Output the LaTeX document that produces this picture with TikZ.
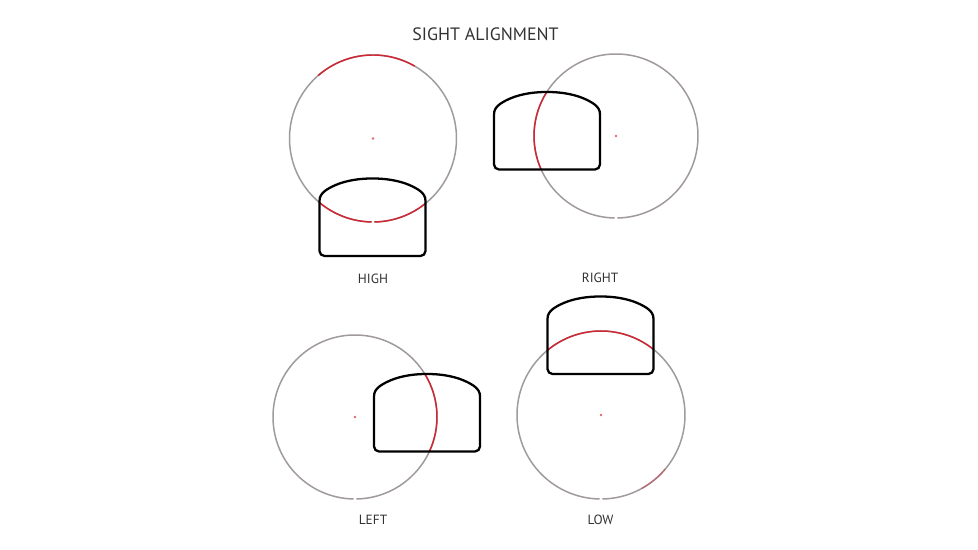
\documentclass[tikz,border=0pt]{standalone}
\usepackage{fontspec}
\setmainfont{PT Sans}
\usetikzlibrary{calc}

\definecolor{ringgray}{RGB}{160,154,157}
\definecolor{ringred}{RGB}{205,40,52}
\definecolor{labelgray}{RGB}{50,50,50}

\tikzset{
    ring/.style={draw=ringgray, line width=0.85pt},
    redring/.style={draw=ringred, line width=0.85pt},
    centerdot/.style={fill=ringred!70},
    blade/.style={draw=black, line width=1.3pt, line join=round},
    caption/.style={text=labelgray, font=\fontsize{7.6}{9}\selectfont},
    pics/frontsight/.style={
        code={
            \draw[blade] (0,55) -- (0,5) arc[start angle=180, end angle=270, radius=5]
                -- (101,0) arc[start angle=270, end angle=360, radius=5]
                -- (106,55) .. controls (106,59.5) and (104,62.5) .. (100,65.5)
                .. controls (86,75) and (68,77.5) .. (53,77.5)
                .. controls (38,77.5) and (20,75) .. (6,65.5)
                .. controls (2,62.5) and (0,59.5) .. (0,55) -- cycle;
        }
    }
}

\begin{document}
\begin{tikzpicture}[x=0.02cm, y=0.02cm]
        \useasboundingbox (0,0) rectangle (978,550);
        \node[text=labelgray, font=\fontsize{10.2}{12}\selectfont] (TITLE) at (485.5,515.5) {SIGHT ALIGNMENT};
        % high
        \coordinate (HIGHC) at (373,411.5);
        \draw[ring] (HIGHC) ++(-89:83.5) arc[start angle=-89, end angle=269, radius=83.5];
        \draw[redring] (HIGHC) ++(60:83.5) arc[start angle=60, end angle=131, radius=83.5];
        \draw[redring] (HIGHC) ++(230:83.5) arc[start angle=230, end angle=269, radius=83.5];
        \draw[redring] (HIGHC) ++(271:83.5) arc[start angle=271, end angle=309, radius=83.5];
        \fill[centerdot] (HIGHC) circle[radius=1.3];
        \pic at (319.5,294) {frontsight};
        \node[caption] (HIGH) at (373,271.5) {HIGH};
        % right
        \coordinate (RIGHTC) at (616,414);
        \draw[ring] (RIGHTC) ++(-89:82) arc[start angle=-89, end angle=269, radius=82];
        \draw[redring] (RIGHTC) ++(148:82) arc[start angle=148, end angle=204, radius=82];
        \fill[centerdot] (RIGHTC) circle[radius=1.3];
        \pic at (494,380.5) {frontsight};
        \node[caption] (RIGHT) at (600,272.5) {RIGHT};
        % left
        \coordinate (LEFTC) at (355,133);
        \draw[ring] (LEFTC) ++(-89:82) arc[start angle=-89, end angle=269, radius=82];
        \draw[redring] (LEFTC) ++(-25:82) arc[start angle=-25, end angle=31, radius=82];
        \fill[centerdot] (LEFTC) circle[radius=1.3];
        \pic at (374,98.5) {frontsight};
        \node[caption] (LEFT) at (373,30) {LEFT};
        % low
        \coordinate (LOWC) at (601,135);
        \draw[ring] (LOWC) ++(-89:84) arc[start angle=-89, end angle=269, radius=84];
        \draw[redring] (LOWC) ++(51:84) arc[start angle=51, end angle=130, radius=84];
        \draw[redring, draw opacity=0.4] (LOWC) ++(-61:84) arc[start angle=-61, end angle=-40, radius=84];
        \fill[centerdot] (LOWC) circle[radius=1.3];
        \pic at (547.5,176) {frontsight};
        \node[caption] (LOW) at (600.5,30) {LOW};
\end{tikzpicture}
\end{document}
